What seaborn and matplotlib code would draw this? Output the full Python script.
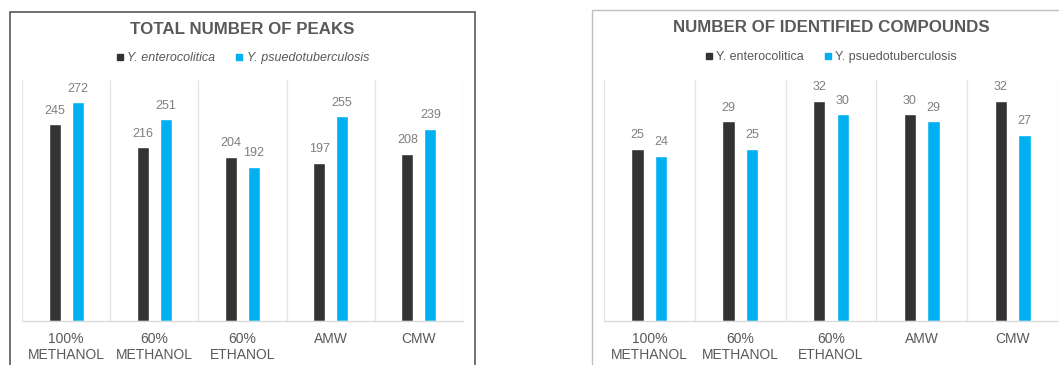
import matplotlib
matplotlib.use("Agg")
import matplotlib.pyplot as plt
import seaborn as sns
import pandas as pd
from matplotlib.patches import Rectangle
from matplotlib.lines import Line2D

# Extraction methods (x categories) and the two species (hue)
extractions = ["100%\nMETHANOL", "60%\nMETHANOL", "60%\nETHANOL", "AMW", "CMW"]
species = ["Y. enterocolitica", "Y. psuedotuberculosis"]

# Total number of peaks per extraction method
peaks_entero = [245, 216, 204, 197, 208]
peaks_pseudo = [272, 251, 192, 255, 239]

# Number of identified compounds per extraction method
compounds_entero = [25, 29, 32, 30, 32]
compounds_pseudo = [24, 25, 30, 29, 27]

colors = ["#333333", "#00B0F0"]
text_grey = "#595959"
label_grey = "#7f7f7f"
grid_grey = "#e4e4e4"

sns.set_theme(style="white")
plt.rcParams["font.family"] = ["Liberation Sans", "DejaVu Sans"]

W, H = 1059, 365
fig = plt.figure(figsize=(W / 100, H / 100), dpi=100)


def long_table(a, b):
    return pd.DataFrame({
        "extraction": extractions * 2,
        "species": [species[0]] * len(a) + [species[1]] * len(b),
        "value": list(a) + list(b),
    })


def draw_panel(rect_px, a, b, ymax, title, title_y, legend_y, italic):
    x0, x1, ytop, ybot = rect_px
    ax = fig.add_axes([x0 / W, (H - ybot) / H, (x1 - x0) / W, (ybot - ytop) / H])
    sns.barplot(data=long_table(a, b), x="extraction", y="value", hue="species",
                order=extractions, hue_order=species, palette=colors,
                saturation=1, width=0.52, gap=0.48, legend=False, ax=ax)
    for cont in ax.containers:
        ax.bar_label(cont, padding=5.5, color=label_grey, fontsize=9)
    ax.set_xlim(-0.5, len(extractions) - 0.5)
    ax.set_ylim(0, ymax)
    ax.set_yticks([])
    ax.set_xlabel("")
    ax.set_ylabel("")
    ax.set_xticks([i - 0.5 for i in range(len(extractions) + 1)], minor=True)
    ax.grid(which="minor", axis="x", color=grid_grey, lw=0.9)
    ax.grid(which="major", visible=False)
    ax.tick_params(axis="x", which="both", length=0, pad=8, colors=text_grey,
                   labelsize=10)
    for s in ["left", "right", "top"]:
        ax.spines[s].set_visible(False)
    ax.spines["bottom"].set_color("#d9d9d9")
    ax.spines["bottom"].set_linewidth(0.9)

    cx = (x0 + x1) / 2 / W
    fig.text(cx, 1 - title_y / H, title, ha="center", va="center",
             fontsize=12.2, fontweight="bold", color=text_grey)
    handles = [Line2D([], [], ls="", marker="s", markersize=5,
                      markerfacecolor=c, markeredgecolor=c) for c in colors]
    fig.legend(handles, species, loc="center", ncol=2,
               bbox_to_anchor=(cx, 1 - legend_y / H), frameon=False,
               handlelength=0.6, handletextpad=0.3, columnspacing=1.6,
               prop={"size": 9, "style": "italic" if italic else "normal"},
               labelcolor=text_grey)
    return ax


draw_panel((22, 463, 80, 321), peaks_entero, peaks_pseudo, 300,
           "TOTAL NUMBER OF PEAKS", 30, 58, True)
draw_panel((604, 1058, 80, 321), compounds_entero, compounds_pseudo, 35,
           "NUMBER OF IDENTIFIED COMPOUNDS", 28, 57, False)

# Chart-area frames around each panel
fig.add_artist(Rectangle((10 / W, -5 / H), 465 / W, (H - 12 + 5) / H,
                         transform=fig.transFigure, fill=False,
                         edgecolor="#595959", lw=1.2, clip_on=False))
fig.add_artist(Rectangle((592 / W, -5 / H), 480 / W, (H - 10 + 5) / H,
                         transform=fig.transFigure, fill=False,
                         edgecolor="#bfbfbf", lw=1.0, clip_on=False))

fig.savefig("out.png", dpi=100)
